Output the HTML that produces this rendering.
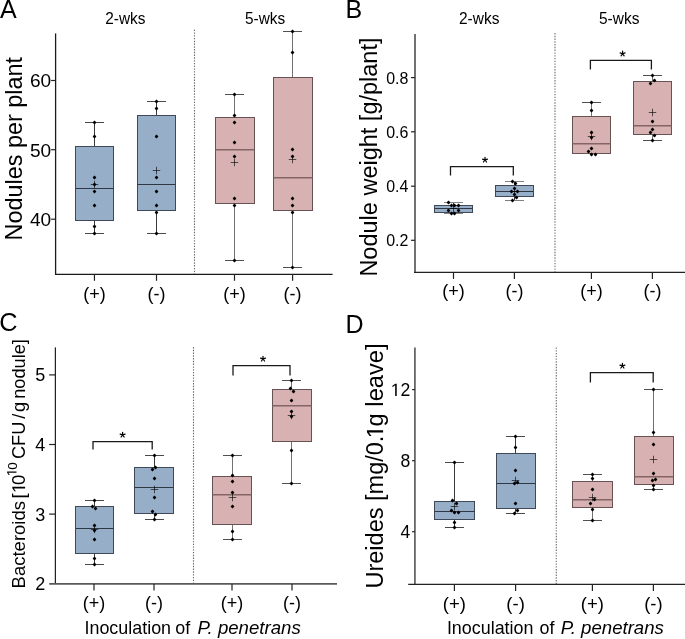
<!DOCTYPE html>
<html><head><meta charset="utf-8"><style>
html,body{margin:0;padding:0;background:#fff;}
body{width:685px;height:639px;overflow:hidden;}
svg{display:block;will-change:transform;}
text{font-family:"Liberation Sans", sans-serif;fill:#000;}
</style></head><body>
<svg width="685" height="639" viewBox="0 0 685 639">
<rect width="685" height="639" fill="#fff"/>
<text x="0.0" y="17.8" font-size="25" text-anchor="start"  style="">A</text>
<text x="105.3" y="23.7" font-size="17" text-anchor="start" textLength="40.2" lengthAdjust="spacingAndGlyphs" style="">2-wks</text>
<text x="245" y="23.7" font-size="17" text-anchor="start" textLength="40.2" lengthAdjust="spacingAndGlyphs" style="">5-wks</text>
<line x1="194.5" y1="29.66" x2="194.5" y2="274" stroke="#6a6a6a" stroke-width="1.1" stroke-dasharray="1.39 1.38"/>
<line x1="94.5" y1="122.5" x2="94.5" y2="146.5" stroke="#3a3a3a" stroke-width="1"/>
<line x1="94.5" y1="220.5" x2="94.5" y2="233.5" stroke="#3a3a3a" stroke-width="1"/>
<line x1="85.0" y1="122.5" x2="104.0" y2="122.5" stroke="#4a4a4a" stroke-width="1"/>
<line x1="85.0" y1="233.5" x2="104.0" y2="233.5" stroke="#4a4a4a" stroke-width="1"/>
<rect x="75.5" y="146.5" width="38.00" height="74.00" fill="#97aec9" stroke="#3e4856" stroke-width="1"/>
<line x1="75.5" y1="188.5" x2="113.5" y2="188.5" stroke="#2e3844" stroke-width="1.1"/>
<path d="M90.75 184.5H98.25M94.5 180.75V188.25" stroke="rgba(0,0,0,0.62)" stroke-width="1" fill="none"/>
<path d="M94.50 120.60L96.40 122.50L94.50 124.40L92.60 122.50Z" fill="#000"/><circle cx="94.5" cy="122.5" r="1.05" fill="#000"/>
<path d="M94.50 134.60L96.40 136.50L94.50 138.40L92.60 136.50Z" fill="#000"/><circle cx="94.5" cy="136.5" r="1.05" fill="#000"/>
<path d="M94.50 175.60L96.40 177.50L94.50 179.40L92.60 177.50Z" fill="#000"/><circle cx="94.5" cy="177.5" r="1.05" fill="#000"/>
<path d="M94.50 182.60L96.40 184.50L94.50 186.40L92.60 184.50Z" fill="#000"/><circle cx="94.5" cy="184.5" r="1.05" fill="#000"/>
<path d="M94.50 189.60L96.40 191.50L94.50 193.40L92.60 191.50Z" fill="#000"/><circle cx="94.5" cy="191.5" r="1.05" fill="#000"/>
<path d="M94.50 203.60L96.40 205.50L94.50 207.40L92.60 205.50Z" fill="#000"/><circle cx="94.5" cy="205.5" r="1.05" fill="#000"/>
<path d="M94.50 224.60L96.40 226.50L94.50 228.40L92.60 226.50Z" fill="#000"/><circle cx="94.5" cy="226.5" r="1.05" fill="#000"/>
<path d="M94.50 231.60L96.40 233.50L94.50 235.40L92.60 233.50Z" fill="#000"/><circle cx="94.5" cy="233.5" r="1.05" fill="#000"/>
<line x1="156.5" y1="101.5" x2="156.5" y2="115.5" stroke="#3a3a3a" stroke-width="1"/>
<line x1="156.5" y1="210.5" x2="156.5" y2="233.5" stroke="#3a3a3a" stroke-width="1"/>
<line x1="147.0" y1="101.5" x2="166.0" y2="101.5" stroke="#4a4a4a" stroke-width="1"/>
<line x1="147.0" y1="233.5" x2="166.0" y2="233.5" stroke="#4a4a4a" stroke-width="1"/>
<rect x="137.5" y="115.5" width="38.00" height="95.00" fill="#97aec9" stroke="#3e4856" stroke-width="1"/>
<line x1="137.5" y1="184.5" x2="175.5" y2="184.5" stroke="#2e3844" stroke-width="1.1"/>
<path d="M152.75 170.5H160.25M156.5 166.75V174.25" stroke="rgba(0,0,0,0.62)" stroke-width="1" fill="none"/>
<path d="M156.50 99.60L158.40 101.50L156.50 103.40L154.60 101.50Z" fill="#000"/><circle cx="156.5" cy="101.5" r="1.05" fill="#000"/>
<path d="M156.50 106.60L158.40 108.50L156.50 110.40L154.60 108.50Z" fill="#000"/><circle cx="156.5" cy="108.5" r="1.05" fill="#000"/>
<path d="M156.50 134.60L158.40 136.50L156.50 138.40L154.60 136.50Z" fill="#000"/><circle cx="156.5" cy="136.5" r="1.05" fill="#000"/>
<path d="M156.50 175.60L158.40 177.50L156.50 179.40L154.60 177.50Z" fill="#000"/><circle cx="156.5" cy="177.5" r="1.05" fill="#000"/>
<path d="M156.50 189.60L158.40 191.50L156.50 193.40L154.60 191.50Z" fill="#000"/><circle cx="156.5" cy="191.5" r="1.05" fill="#000"/>
<path d="M156.50 203.60L158.40 205.50L156.50 207.40L154.60 205.50Z" fill="#000"/><circle cx="156.5" cy="205.5" r="1.05" fill="#000"/>
<path d="M156.50 210.60L158.40 212.50L156.50 214.40L154.60 212.50Z" fill="#000"/><circle cx="156.5" cy="212.5" r="1.05" fill="#000"/>
<path d="M156.50 231.60L158.40 233.50L156.50 235.40L154.60 233.50Z" fill="#000"/><circle cx="156.5" cy="233.5" r="1.05" fill="#000"/>
<line x1="234.5" y1="94.5" x2="234.5" y2="117.5" stroke="#727272" stroke-width="1"/>
<line x1="234.5" y1="203.5" x2="234.5" y2="260.5" stroke="#727272" stroke-width="1"/>
<line x1="225.0" y1="94.5" x2="244.0" y2="94.5" stroke="#505050" stroke-width="1"/>
<line x1="225.0" y1="260.5" x2="244.0" y2="260.5" stroke="#505050" stroke-width="1"/>
<rect x="215.5" y="117.5" width="39.00" height="86.00" fill="#d8b2b2" stroke="#665252" stroke-width="1"/>
<line x1="215.5" y1="149.8" x2="254.5" y2="149.8" stroke="#846464" stroke-width="1.5"/>
<path d="M230.75 162.5H238.25M234.5 158.75V166.25" stroke="rgba(0,0,0,0.62)" stroke-width="1" fill="none"/>
<path d="M234.50 92.60L236.40 94.50L234.50 96.40L232.60 94.50Z" fill="#000"/><circle cx="234.5" cy="94.5" r="1.05" fill="#000"/>
<path d="M234.50 113.60L236.40 115.50L234.50 117.40L232.60 115.50Z" fill="#000"/><circle cx="234.5" cy="115.5" r="1.05" fill="#000"/>
<path d="M234.50 120.60L236.40 122.50L234.50 124.40L232.60 122.50Z" fill="#000"/><circle cx="234.5" cy="122.5" r="1.05" fill="#000"/>
<path d="M234.50 140.60L236.40 142.50L234.50 144.40L232.60 142.50Z" fill="#000"/><circle cx="234.5" cy="142.5" r="1.05" fill="#000"/>
<path d="M234.50 154.60L236.40 156.50L234.50 158.40L232.60 156.50Z" fill="#000"/><circle cx="234.5" cy="156.5" r="1.05" fill="#000"/>
<path d="M234.50 196.60L236.40 198.50L234.50 200.40L232.60 198.50Z" fill="#000"/><circle cx="234.5" cy="198.5" r="1.05" fill="#000"/>
<path d="M234.50 203.60L236.40 205.50L234.50 207.40L232.60 205.50Z" fill="#000"/><circle cx="234.5" cy="205.5" r="1.05" fill="#000"/>
<path d="M234.50 258.60L236.40 260.50L234.50 262.40L232.60 260.50Z" fill="#000"/><circle cx="234.5" cy="260.5" r="1.05" fill="#000"/>
<line x1="292.5" y1="31.5" x2="292.5" y2="77.5" stroke="#727272" stroke-width="1"/>
<line x1="292.5" y1="210.5" x2="292.5" y2="267.5" stroke="#727272" stroke-width="1"/>
<line x1="283.0" y1="31.5" x2="302.0" y2="31.5" stroke="#505050" stroke-width="1"/>
<line x1="283.0" y1="267.5" x2="302.0" y2="267.5" stroke="#505050" stroke-width="1"/>
<rect x="273.5" y="77.5" width="39.00" height="133.00" fill="#d8b2b2" stroke="#665252" stroke-width="1"/>
<line x1="273.5" y1="177.8" x2="312.5" y2="177.8" stroke="#846464" stroke-width="1.5"/>
<path d="M288.75 159.5H296.25M292.5 155.75V163.25" stroke="rgba(0,0,0,0.62)" stroke-width="1" fill="none"/>
<path d="M292.50 29.60L294.40 31.50L292.50 33.40L290.60 31.50Z" fill="#000"/><circle cx="292.5" cy="31.5" r="1.05" fill="#000"/>
<path d="M292.50 50.60L294.40 52.50L292.50 54.40L290.60 52.50Z" fill="#000"/><circle cx="292.5" cy="52.5" r="1.05" fill="#000"/>
<path d="M292.50 147.60L294.40 149.50L292.50 151.40L290.60 149.50Z" fill="#000"/><circle cx="292.5" cy="149.5" r="1.05" fill="#000"/>
<path d="M292.50 154.60L294.40 156.50L292.50 158.40L290.60 156.50Z" fill="#000"/><circle cx="292.5" cy="156.5" r="1.05" fill="#000"/>
<path d="M292.50 196.60L294.40 198.50L292.50 200.40L290.60 198.50Z" fill="#000"/><circle cx="292.5" cy="198.5" r="1.05" fill="#000"/>
<path d="M292.50 203.60L294.40 205.50L292.50 207.40L290.60 205.50Z" fill="#000"/><circle cx="292.5" cy="205.5" r="1.05" fill="#000"/>
<path d="M292.50 210.60L294.40 212.50L292.50 214.40L290.60 212.50Z" fill="#000"/><circle cx="292.5" cy="212.5" r="1.05" fill="#000"/>
<path d="M292.50 265.60L294.40 267.50L292.50 269.40L290.60 267.50Z" fill="#000"/><circle cx="292.5" cy="267.5" r="1.05" fill="#000"/>
<line x1="55.6" y1="33.4" x2="55.6" y2="274.3" stroke="#1a1a1a" stroke-width="1.3"/><line x1="54.95" y1="274.3" x2="332.6" y2="274.3" stroke="#1a1a1a" stroke-width="1.3"/>
<line x1="51.1" y1="80.5" x2="55.6" y2="80.5" stroke="#222" stroke-width="1.2"/>
<text x="51.2" y="87.376" font-size="19.1" text-anchor="end"  style="">60</text>
<line x1="51.1" y1="149.7" x2="55.6" y2="149.7" stroke="#222" stroke-width="1.2"/>
<text x="51.2" y="156.576" font-size="19.1" text-anchor="end"  style="">50</text>
<line x1="51.1" y1="219.2" x2="55.6" y2="219.2" stroke="#222" stroke-width="1.2"/>
<text x="51.2" y="226.076" font-size="19.1" text-anchor="end"  style="">40</text>
<line x1="94.45" y1="274.3" x2="94.45" y2="280.8" stroke="#222" stroke-width="1.2"/>
<text x="94.45" y="299.8" font-size="18" text-anchor="middle"  style="">(+)</text>
<line x1="156.5" y1="274.3" x2="156.5" y2="280.8" stroke="#222" stroke-width="1.2"/>
<text x="156.5" y="299.8" font-size="18" text-anchor="middle"  style="">(-)</text>
<line x1="234.5" y1="274.3" x2="234.5" y2="280.8" stroke="#222" stroke-width="1.2"/>
<text x="234.5" y="299.8" font-size="18" text-anchor="middle"  style="">(+)</text>
<line x1="292.6" y1="274.3" x2="292.6" y2="280.8" stroke="#222" stroke-width="1.2"/>
<text x="292.6" y="299.8" font-size="18" text-anchor="middle"  style="">(-)</text>
<text transform="translate(22.1,240.5) rotate(-90)" font-size="23.6" textLength="183.5" lengthAdjust="spacingAndGlyphs">Nodules per plant</text>
<text x="345.4" y="17.8" font-size="25" text-anchor="start"  style="">B</text>
<text x="459" y="23.7" font-size="17" text-anchor="start" textLength="40.4" lengthAdjust="spacingAndGlyphs" style="">2-wks</text>
<text x="599" y="23.7" font-size="17" text-anchor="start" textLength="40.4" lengthAdjust="spacingAndGlyphs" style="">5-wks</text>
<line x1="555" y1="33" x2="555" y2="272" stroke="#808080" stroke-width="1.3" stroke-dasharray="1.39 1.38"/>
<line x1="453.5" y1="202.5" x2="453.5" y2="205.5" stroke="#3a3a3a" stroke-width="1"/>
<line x1="453.5" y1="212.5" x2="453.5" y2="213.5" stroke="#3a3a3a" stroke-width="1"/>
<line x1="444.0" y1="202.5" x2="463.0" y2="202.5" stroke="#858585" stroke-width="1"/>
<line x1="444.0" y1="213.5" x2="463.0" y2="213.5" stroke="#858585" stroke-width="1"/>
<rect x="434.5" y="205.5" width="38.00" height="7.00" fill="#97aec9" stroke="#3e4856" stroke-width="1"/>
<line x1="434.5" y1="208.5" x2="472.5" y2="208.5" stroke="#2e3844" stroke-width="1.1"/>
<path d="M449.75 208.5H457.25M453.5 204.75V212.25" stroke="rgba(0,0,0,0.62)" stroke-width="1" fill="none"/>
<path d="M448.50 200.60L450.40 202.50L448.50 204.40L446.60 202.50Z" fill="#000"/><circle cx="448.5" cy="202.5" r="1.05" fill="#000"/>
<path d="M451.50 203.60L453.40 205.50L451.50 207.40L449.60 205.50Z" fill="#000"/><circle cx="451.5" cy="205.5" r="1.05" fill="#000"/>
<path d="M454.50 203.60L456.40 205.50L454.50 207.40L452.60 205.50Z" fill="#000"/><circle cx="454.5" cy="205.5" r="1.05" fill="#000"/>
<path d="M458.50 203.60L460.40 205.50L458.50 207.40L456.60 205.50Z" fill="#000"/><circle cx="458.5" cy="205.5" r="1.05" fill="#000"/>
<path d="M448.50 208.60L450.40 210.50L448.50 212.40L446.60 210.50Z" fill="#000"/><circle cx="448.5" cy="210.5" r="1.05" fill="#000"/>
<path d="M458.50 208.60L460.40 210.50L458.50 212.40L456.60 210.50Z" fill="#000"/><circle cx="458.5" cy="210.5" r="1.05" fill="#000"/>
<path d="M451.50 211.60L453.40 213.50L451.50 215.40L449.60 213.50Z" fill="#000"/><circle cx="451.5" cy="213.5" r="1.05" fill="#000"/>
<path d="M454.50 211.60L456.40 213.50L454.50 215.40L452.60 213.50Z" fill="#000"/><circle cx="454.5" cy="213.5" r="1.05" fill="#000"/>
<line x1="514.5" y1="181.5" x2="514.5" y2="185.5" stroke="#3a3a3a" stroke-width="1"/>
<line x1="514.5" y1="196.5" x2="514.5" y2="200.5" stroke="#3a3a3a" stroke-width="1"/>
<line x1="505.0" y1="181.5" x2="524.0" y2="181.5" stroke="#808080" stroke-width="1"/>
<line x1="505.0" y1="200.5" x2="524.0" y2="200.5" stroke="#808080" stroke-width="1"/>
<rect x="495.5" y="185.5" width="38.00" height="11.00" fill="#97aec9" stroke="#3e4856" stroke-width="1"/>
<line x1="495.5" y1="191.5" x2="533.5" y2="191.5" stroke="#2e3844" stroke-width="1.1"/>
<path d="M510.75 191.5H518.25M514.5 187.75V195.25" stroke="rgba(0,0,0,0.62)" stroke-width="1" fill="none"/>
<path d="M512.50 179.60L514.40 181.50L512.50 183.40L510.60 181.50Z" fill="#000"/><circle cx="512.5" cy="181.5" r="1.05" fill="#000"/>
<path d="M515.50 181.60L517.40 183.50L515.50 185.40L513.60 183.50Z" fill="#000"/><circle cx="515.5" cy="183.5" r="1.05" fill="#000"/>
<path d="M514.50 186.60L516.40 188.50L514.50 190.40L512.60 188.50Z" fill="#000"/><circle cx="514.5" cy="188.5" r="1.05" fill="#000"/>
<path d="M511.50 189.60L513.40 191.50L511.50 193.40L509.60 191.50Z" fill="#000"/><circle cx="511.5" cy="191.5" r="1.05" fill="#000"/>
<path d="M517.50 189.60L519.40 191.50L517.50 193.40L515.60 191.50Z" fill="#000"/><circle cx="517.5" cy="191.5" r="1.05" fill="#000"/>
<path d="M514.50 192.60L516.40 194.50L514.50 196.40L512.60 194.50Z" fill="#000"/><circle cx="514.5" cy="194.5" r="1.05" fill="#000"/>
<path d="M516.50 195.60L518.40 197.50L516.50 199.40L514.60 197.50Z" fill="#000"/><circle cx="516.5" cy="197.5" r="1.05" fill="#000"/>
<path d="M512.50 198.60L514.40 200.50L512.50 202.40L510.60 200.50Z" fill="#000"/><circle cx="512.5" cy="200.5" r="1.05" fill="#000"/>
<line x1="591.5" y1="102.5" x2="591.5" y2="116.5" stroke="#727272" stroke-width="1"/>
<line x1="591.5" y1="153.5" x2="591.5" y2="153.5" stroke="#727272" stroke-width="1"/>
<line x1="582.0" y1="102.5" x2="601.0" y2="102.5" stroke="#505050" stroke-width="1"/>
<line x1="582.0" y1="153.5" x2="601.0" y2="153.5" stroke="#505050" stroke-width="1"/>
<rect x="572.5" y="116.5" width="38.00" height="37.00" fill="#d8b2b2" stroke="#665252" stroke-width="1"/>
<line x1="572.5" y1="143.8" x2="610.5" y2="143.8" stroke="#846464" stroke-width="1.5"/>
<path d="M587.75 136.5H595.25M591.5 132.75V140.25" stroke="rgba(0,0,0,0.62)" stroke-width="1" fill="none"/>
<path d="M591.50 100.60L593.40 102.50L591.50 104.40L589.60 102.50Z" fill="#000"/><circle cx="591.5" cy="102.5" r="1.05" fill="#000"/>
<path d="M591.50 108.60L593.40 110.50L591.50 112.40L589.60 110.50Z" fill="#000"/><circle cx="591.5" cy="110.5" r="1.05" fill="#000"/>
<path d="M591.50 130.60L593.40 132.50L591.50 134.40L589.60 132.50Z" fill="#000"/><circle cx="591.5" cy="132.5" r="1.05" fill="#000"/>
<path d="M591.50 135.60L593.40 137.50L591.50 139.40L589.60 137.50Z" fill="#000"/><circle cx="591.5" cy="137.5" r="1.05" fill="#000"/>
<path d="M591.50 146.60L593.40 148.50L591.50 150.40L589.60 148.50Z" fill="#000"/><circle cx="591.5" cy="148.5" r="1.05" fill="#000"/>
<path d="M588.50 149.60L590.40 151.50L588.50 153.40L586.60 151.50Z" fill="#000"/><circle cx="588.5" cy="151.5" r="1.05" fill="#000"/>
<path d="M591.50 152.60L593.40 154.50L591.50 156.40L589.60 154.50Z" fill="#000"/><circle cx="591.5" cy="154.5" r="1.05" fill="#000"/>
<path d="M595.50 152.60L597.40 154.50L595.50 156.40L593.60 154.50Z" fill="#000"/><circle cx="595.5" cy="154.5" r="1.05" fill="#000"/>
<line x1="652.5" y1="75.5" x2="652.5" y2="81.5" stroke="#727272" stroke-width="1"/>
<line x1="652.5" y1="134.5" x2="652.5" y2="140.5" stroke="#727272" stroke-width="1"/>
<line x1="643.0" y1="75.5" x2="662.0" y2="75.5" stroke="#505050" stroke-width="1"/>
<line x1="643.0" y1="140.5" x2="662.0" y2="140.5" stroke="#505050" stroke-width="1"/>
<rect x="633.5" y="81.5" width="38.00" height="53.00" fill="#d8b2b2" stroke="#665252" stroke-width="1"/>
<line x1="633.5" y1="125.8" x2="671.5" y2="125.8" stroke="#846464" stroke-width="1.5"/>
<path d="M648.75 112.5H656.25M652.5 108.75V116.25" stroke="rgba(0,0,0,0.62)" stroke-width="1" fill="none"/>
<path d="M652.50 73.60L654.40 75.50L652.50 77.40L650.60 75.50Z" fill="#000"/><circle cx="652.5" cy="75.5" r="1.05" fill="#000"/>
<path d="M654.50 78.60L656.40 80.50L654.50 82.40L652.60 80.50Z" fill="#000"/><circle cx="654.5" cy="80.5" r="1.05" fill="#000"/>
<path d="M650.50 81.60L652.40 83.50L650.50 85.40L648.60 83.50Z" fill="#000"/><circle cx="650.5" cy="83.5" r="1.05" fill="#000"/>
<path d="M652.50 119.60L654.40 121.50L652.50 123.40L650.60 121.50Z" fill="#000"/><circle cx="652.5" cy="121.5" r="1.05" fill="#000"/>
<path d="M652.50 127.60L654.40 129.50L652.50 131.40L650.60 129.50Z" fill="#000"/><circle cx="652.5" cy="129.5" r="1.05" fill="#000"/>
<path d="M650.50 130.60L652.40 132.50L650.50 134.40L648.60 132.50Z" fill="#000"/><circle cx="650.5" cy="132.5" r="1.05" fill="#000"/>
<path d="M654.50 133.60L656.40 135.50L654.50 137.40L652.60 135.50Z" fill="#000"/><circle cx="654.5" cy="135.5" r="1.05" fill="#000"/>
<path d="M652.50 138.60L654.40 140.50L652.50 142.40L650.60 140.50Z" fill="#000"/><circle cx="652.5" cy="140.5" r="1.05" fill="#000"/>
<line x1="415" y1="34" x2="415" y2="272.4" stroke="#626262" stroke-width="1.8"/><line x1="414" y1="272.4" x2="685" y2="272.4" stroke="#222" stroke-width="1.25"/>
<line x1="411" y1="77.6" x2="415" y2="77.6" stroke="#222" stroke-width="1.2"/>
<line x1="411" y1="131.8" x2="415" y2="131.8" stroke="#222" stroke-width="1.2"/>
<line x1="411" y1="186.2" x2="415" y2="186.2" stroke="#222" stroke-width="1.2"/>
<line x1="411" y1="240.3" x2="415" y2="240.3" stroke="#222" stroke-width="1.2"/>
<text x="386.2" y="83.6" font-size="17.3" text-anchor="start" textLength="22.2" lengthAdjust="spacingAndGlyphs" style="">0.8</text>
<text x="386.2" y="137.8" font-size="17.3" text-anchor="start" textLength="22.2" lengthAdjust="spacingAndGlyphs" style="">0.6</text>
<text x="386.2" y="192.2" font-size="17.3" text-anchor="start" textLength="22.2" lengthAdjust="spacingAndGlyphs" style="">0.4</text>
<text x="386.2" y="246.3" font-size="17.3" text-anchor="start" textLength="22.2" lengthAdjust="spacingAndGlyphs" style="">0.2</text>
<line x1="453.5" y1="272.4" x2="453.5" y2="278.9" stroke="#222" stroke-width="1.2"/>
<text x="453.5" y="296.8" font-size="18" text-anchor="middle"  style="">(+)</text>
<line x1="514.4" y1="272.4" x2="514.4" y2="278.9" stroke="#222" stroke-width="1.2"/>
<text x="514.4" y="296.8" font-size="18" text-anchor="middle"  style="">(-)</text>
<line x1="591.4" y1="272.4" x2="591.4" y2="278.9" stroke="#222" stroke-width="1.2"/>
<text x="591.4" y="296.8" font-size="18" text-anchor="middle"  style="">(+)</text>
<line x1="652.4" y1="272.4" x2="652.4" y2="278.9" stroke="#222" stroke-width="1.2"/>
<text x="652.4" y="296.8" font-size="18" text-anchor="middle"  style="">(-)</text>
<path d="M450.5 175.4V166.6H513.3V175.4" stroke="#1a1a1a" stroke-width="1.3" fill="none"/><path d="M485.00 159.90L485.00 157.30M485.00 159.90L487.47 159.10M485.00 159.90L486.53 162.00M485.00 159.90L483.47 162.00M485.00 159.90L482.53 159.10" stroke="#000" stroke-width="1.2" stroke-linecap="round" fill="none"/>
<path d="M590.4 69.6V60.4H651.4V69.6" stroke="#1a1a1a" stroke-width="1.3" fill="none"/><path d="M622.60 53.70L622.60 51.10M622.60 53.70L625.07 52.90M622.60 53.70L624.13 55.80M622.60 53.70L621.07 55.80M622.60 53.70L620.13 52.90" stroke="#000" stroke-width="1.2" stroke-linecap="round" fill="none"/>
<text transform="translate(377.3,276.6) rotate(-90)" font-size="23.5" textLength="239.1" lengthAdjust="spacingAndGlyphs">Nodule weight [g/plant]</text>
<text x="-0.75" y="331.2" font-size="25.3" text-anchor="start"  style="">C</text>
<line x1="193.5" y1="347" x2="193.5" y2="583.5" stroke="#6a6a6a" stroke-width="1.1" stroke-dasharray="1.39 1.38"/>
<line x1="94.5" y1="500.5" x2="94.5" y2="506.5" stroke="#3a3a3a" stroke-width="1"/>
<line x1="94.5" y1="553.5" x2="94.5" y2="564.5" stroke="#3a3a3a" stroke-width="1"/>
<line x1="85.0" y1="500.5" x2="104.0" y2="500.5" stroke="#4a4a4a" stroke-width="1"/>
<line x1="85.0" y1="564.5" x2="104.0" y2="564.5" stroke="#4a4a4a" stroke-width="1"/>
<rect x="75.5" y="506.5" width="38.00" height="47.00" fill="#97aec9" stroke="#3e4856" stroke-width="1"/>
<line x1="75.5" y1="528.5" x2="113.5" y2="528.5" stroke="#2e3844" stroke-width="1.1"/>
<path d="M90.75 529.5H98.25M94.5 525.75V533.25" stroke="rgba(0,0,0,0.62)" stroke-width="1" fill="none"/>
<path d="M94.50 498.60L96.40 500.50L94.50 502.40L92.60 500.50Z" fill="#000"/><circle cx="94.5" cy="500.5" r="1.05" fill="#000"/>
<path d="M92.50 504.60L94.40 506.50L92.50 508.40L90.60 506.50Z" fill="#000"/><circle cx="92.5" cy="506.5" r="1.05" fill="#000"/>
<path d="M95.50 506.60L97.40 508.50L95.50 510.40L93.60 508.50Z" fill="#000"/><circle cx="95.5" cy="508.5" r="1.05" fill="#000"/>
<path d="M94.50 523.60L96.40 525.50L94.50 527.40L92.60 525.50Z" fill="#000"/><circle cx="94.5" cy="525.5" r="1.05" fill="#000"/>
<path d="M94.50 528.60L96.40 530.50L94.50 532.40L92.60 530.50Z" fill="#000"/><circle cx="94.5" cy="530.5" r="1.05" fill="#000"/>
<path d="M94.50 537.60L96.40 539.50L94.50 541.40L92.60 539.50Z" fill="#000"/><circle cx="94.5" cy="539.5" r="1.05" fill="#000"/>
<path d="M94.50 556.60L96.40 558.50L94.50 560.40L92.60 558.50Z" fill="#000"/><circle cx="94.5" cy="558.5" r="1.05" fill="#000"/>
<path d="M94.50 562.60L96.40 564.50L94.50 566.40L92.60 564.50Z" fill="#000"/><circle cx="94.5" cy="564.5" r="1.05" fill="#000"/>
<line x1="154.5" y1="455.5" x2="154.5" y2="467.5" stroke="#3a3a3a" stroke-width="1"/>
<line x1="154.5" y1="513.5" x2="154.5" y2="519.5" stroke="#3a3a3a" stroke-width="1"/>
<line x1="145.0" y1="455.5" x2="164.0" y2="455.5" stroke="#4a4a4a" stroke-width="1"/>
<line x1="145.0" y1="519.5" x2="164.0" y2="519.5" stroke="#4a4a4a" stroke-width="1"/>
<rect x="134.5" y="467.5" width="39.00" height="46.00" fill="#97aec9" stroke="#3e4856" stroke-width="1"/>
<line x1="134.5" y1="487.5" x2="173.5" y2="487.5" stroke="#2e3844" stroke-width="1.1"/>
<path d="M150.75 489.5H158.25M154.5 485.75V493.25" stroke="rgba(0,0,0,0.62)" stroke-width="1" fill="none"/>
<path d="M154.50 453.60L156.40 455.50L154.50 457.40L152.60 455.50Z" fill="#000"/><circle cx="154.5" cy="455.5" r="1.05" fill="#000"/>
<path d="M155.50 465.60L157.40 467.50L155.50 469.40L153.60 467.50Z" fill="#000"/><circle cx="155.5" cy="467.5" r="1.05" fill="#000"/>
<path d="M152.50 467.60L154.40 469.50L152.50 471.40L150.60 469.50Z" fill="#000"/><circle cx="152.5" cy="469.5" r="1.05" fill="#000"/>
<path d="M154.50 476.60L156.40 478.50L154.50 480.40L152.60 478.50Z" fill="#000"/><circle cx="154.5" cy="478.5" r="1.05" fill="#000"/>
<path d="M154.50 495.60L156.40 497.50L154.50 499.40L152.60 497.50Z" fill="#000"/><circle cx="154.5" cy="497.5" r="1.05" fill="#000"/>
<path d="M152.50 509.60L154.40 511.50L152.50 513.40L150.60 511.50Z" fill="#000"/><circle cx="152.5" cy="511.5" r="1.05" fill="#000"/>
<path d="M155.50 512.60L157.40 514.50L155.50 516.40L153.60 514.50Z" fill="#000"/><circle cx="155.5" cy="514.5" r="1.05" fill="#000"/>
<path d="M154.50 517.60L156.40 519.50L154.50 521.40L152.60 519.50Z" fill="#000"/><circle cx="154.5" cy="519.5" r="1.05" fill="#000"/>
<line x1="232.5" y1="455.5" x2="232.5" y2="476.5" stroke="#727272" stroke-width="1"/>
<line x1="232.5" y1="524.5" x2="232.5" y2="539.5" stroke="#727272" stroke-width="1"/>
<line x1="223.0" y1="455.5" x2="242.0" y2="455.5" stroke="#505050" stroke-width="1"/>
<line x1="223.0" y1="539.5" x2="242.0" y2="539.5" stroke="#505050" stroke-width="1"/>
<rect x="212.5" y="476.5" width="39.00" height="48.00" fill="#d8b2b2" stroke="#665252" stroke-width="1"/>
<line x1="212.5" y1="494.8" x2="251.5" y2="494.8" stroke="#846464" stroke-width="1.5"/>
<path d="M228.75 497.5H236.25M232.5 493.75V501.25" stroke="rgba(0,0,0,0.62)" stroke-width="1" fill="none"/>
<path d="M232.50 453.60L234.40 455.50L232.50 457.40L230.60 455.50Z" fill="#000"/><circle cx="232.5" cy="455.5" r="1.05" fill="#000"/>
<path d="M232.50 473.60L234.40 475.50L232.50 477.40L230.60 475.50Z" fill="#000"/><circle cx="232.5" cy="475.5" r="1.05" fill="#000"/>
<path d="M232.50 479.60L234.40 481.50L232.50 483.40L230.60 481.50Z" fill="#000"/><circle cx="232.5" cy="481.5" r="1.05" fill="#000"/>
<path d="M232.50 490.60L234.40 492.50L232.50 494.40L230.60 492.50Z" fill="#000"/><circle cx="232.5" cy="492.5" r="1.05" fill="#000"/>
<path d="M232.50 504.60L234.40 506.50L232.50 508.40L230.60 506.50Z" fill="#000"/><circle cx="232.5" cy="506.5" r="1.05" fill="#000"/>
<path d="M232.50 529.60L234.40 531.50L232.50 533.40L230.60 531.50Z" fill="#000"/><circle cx="232.5" cy="531.5" r="1.05" fill="#000"/>
<path d="M232.50 537.60L234.40 539.50L232.50 541.40L230.60 539.50Z" fill="#000"/><circle cx="232.5" cy="539.5" r="1.05" fill="#000"/>
<line x1="291.5" y1="380.5" x2="291.5" y2="389.5" stroke="#727272" stroke-width="1"/>
<line x1="291.5" y1="441.5" x2="291.5" y2="483.5" stroke="#727272" stroke-width="1"/>
<line x1="282.0" y1="380.5" x2="301.0" y2="380.5" stroke="#505050" stroke-width="1"/>
<line x1="282.0" y1="483.5" x2="301.0" y2="483.5" stroke="#505050" stroke-width="1"/>
<rect x="272.5" y="389.5" width="39.00" height="52.00" fill="#d8b2b2" stroke="#665252" stroke-width="1"/>
<line x1="272.5" y1="405.8" x2="311.5" y2="405.8" stroke="#846464" stroke-width="1.5"/>
<path d="M287.75 415.5H295.25M291.5 411.75V419.25" stroke="rgba(0,0,0,0.62)" stroke-width="1" fill="none"/>
<path d="M291.50 378.60L293.40 380.50L291.50 382.40L289.60 380.50Z" fill="#000"/><circle cx="291.5" cy="380.5" r="1.05" fill="#000"/>
<path d="M290.50 386.60L292.40 388.50L290.50 390.40L288.60 388.50Z" fill="#000"/><circle cx="290.5" cy="388.5" r="1.05" fill="#000"/>
<path d="M293.50 389.60L295.40 391.50L293.50 393.40L291.60 391.50Z" fill="#000"/><circle cx="293.5" cy="391.5" r="1.05" fill="#000"/>
<path d="M291.50 398.60L293.40 400.50L291.50 402.40L289.60 400.50Z" fill="#000"/><circle cx="291.5" cy="400.5" r="1.05" fill="#000"/>
<path d="M291.50 409.60L293.40 411.50L291.50 413.40L289.60 411.50Z" fill="#000"/><circle cx="291.5" cy="411.5" r="1.05" fill="#000"/>
<path d="M291.50 414.60L293.40 416.50L291.50 418.40L289.60 416.50Z" fill="#000"/><circle cx="291.5" cy="416.5" r="1.05" fill="#000"/>
<path d="M291.50 448.60L293.40 450.50L291.50 452.40L289.60 450.50Z" fill="#000"/><circle cx="291.5" cy="450.5" r="1.05" fill="#000"/>
<path d="M291.50 481.60L293.40 483.50L291.50 485.40L289.60 483.50Z" fill="#000"/><circle cx="291.5" cy="483.5" r="1.05" fill="#000"/>
<line x1="55.4" y1="347.4" x2="55.4" y2="583.9" stroke="#222" stroke-width="1.25"/><line x1="49.2" y1="583.9" x2="337" y2="583.9" stroke="#5a5a5a" stroke-width="1.6"/>
<line x1="49.1" y1="374.9" x2="55.4" y2="374.9" stroke="#222" stroke-width="1.2"/>
<text x="45.3" y="381.38" font-size="18" text-anchor="end"  style="">5</text>
<line x1="49.1" y1="444.5" x2="55.4" y2="444.5" stroke="#222" stroke-width="1.2"/>
<text x="45.3" y="450.98" font-size="18" text-anchor="end"  style="">4</text>
<line x1="49.1" y1="514.1" x2="55.4" y2="514.1" stroke="#222" stroke-width="1.2"/>
<text x="45.3" y="520.58" font-size="18" text-anchor="end"  style="">3</text>
<text x="45.3" y="590.38" font-size="18" text-anchor="end"  style="">2</text>
<line x1="94" y1="583.9" x2="94" y2="590.4" stroke="#222" stroke-width="1.2"/>
<text x="94" y="608.8" font-size="18" text-anchor="middle"  style="">(+)</text>
<line x1="154" y1="583.9" x2="154" y2="590.4" stroke="#222" stroke-width="1.2"/>
<text x="154" y="608.8" font-size="18" text-anchor="middle"  style="">(-)</text>
<line x1="232" y1="583.9" x2="232" y2="590.4" stroke="#222" stroke-width="1.2"/>
<text x="232" y="608.8" font-size="18" text-anchor="middle"  style="">(+)</text>
<line x1="292" y1="583.9" x2="292" y2="590.4" stroke="#222" stroke-width="1.2"/>
<text x="292" y="608.8" font-size="18" text-anchor="middle"  style="">(-)</text>
<path d="M93 449.4V441.6H152.2V449.4" stroke="#1a1a1a" stroke-width="1.3" fill="none"/><path d="M122.60 434.90L122.60 432.30M122.60 434.90L125.07 434.10M122.60 434.90L124.13 437.00M122.60 434.90L121.07 437.00M122.60 434.90L120.13 434.10" stroke="#000" stroke-width="1.2" stroke-linecap="round" fill="none"/>
<path d="M233 375.6V365.6H290V375.6" stroke="#1a1a1a" stroke-width="1.3" fill="none"/><path d="M263.00 358.90L263.00 356.30M263.00 358.90L265.47 358.10M263.00 358.90L264.53 361.00M263.00 358.90L261.47 361.00M263.00 358.90L260.53 358.10" stroke="#000" stroke-width="1.2" stroke-linecap="round" fill="none"/>
<text x="84.5" y="634.4" font-size="17.9" text-anchor="start"  style="">Inoculation</text>
<text x="175.3" y="634.4" font-size="17.9" text-anchor="start"  style="">of</text>
<text x="197.5" y="634.4" font-size="17.9" text-anchor="start" font-style="italic" textLength="103.3" lengthAdjust="spacingAndGlyphs" style="">P. penetrans</text>
<text transform="translate(25.1,588.4) rotate(-90)" font-size="18.5">Bacteroids</text>
<text transform="translate(25.1,498.6) rotate(-90)" font-size="18.6">[</text>
<path transform="translate(25.1,493.1) rotate(-90) scale(0.00908,-0.00908)" d="M515 0L515 1237L197 1010L197 1180L530 1409L696 1409L696 0Z" fill="#000"/>
<text transform="translate(25.1,484.95) rotate(-90)" font-size="18.6">0</text>
<path transform="translate(16.5,476.2) rotate(-90) scale(0.00664,-0.00664)" d="M515 0L515 1237L197 1010L197 1180L530 1409L696 1409L696 0Z" fill="#000"/>
<text transform="translate(16.5,469.65) rotate(-90)" font-size="13.6">0</text>
<text transform="translate(25.1,459.1) rotate(-90)" font-size="18.2">CFU</text>
<text transform="translate(25.1,418.8) rotate(-90)" font-size="18.2">/</text>
<text transform="translate(25.1,412.1) rotate(-90)" font-size="18.4">g</text>
<text transform="translate(25.1,398.8) rotate(-90)" font-size="18.2">nodule]</text>
<text x="345.6" y="332.9" font-size="25" text-anchor="start"  style="">D</text>
<line x1="556.3" y1="347.4" x2="556.3" y2="584.4" stroke="#777" stroke-width="1.2" stroke-dasharray="1.39 1.38"/>
<line x1="454.5" y1="462.5" x2="454.5" y2="501.5" stroke="#3a3a3a" stroke-width="1"/>
<line x1="454.5" y1="519.5" x2="454.5" y2="527.5" stroke="#3a3a3a" stroke-width="1"/>
<line x1="445.0" y1="462.5" x2="464.0" y2="462.5" stroke="#4a4a4a" stroke-width="1"/>
<line x1="445.0" y1="527.5" x2="464.0" y2="527.5" stroke="#4a4a4a" stroke-width="1"/>
<rect x="434.5" y="501.5" width="40.00" height="18.00" fill="#97aec9" stroke="#3e4856" stroke-width="1"/>
<line x1="434.5" y1="511.5" x2="474.5" y2="511.5" stroke="#2e3844" stroke-width="1.1"/>
<path d="M450.75 506.5H458.25M454.5 502.75V510.25" stroke="rgba(0,0,0,0.62)" stroke-width="1" fill="none"/>
<path d="M454.50 460.60L456.40 462.50L454.50 464.40L452.60 462.50Z" fill="#000"/><circle cx="454.5" cy="462.5" r="1.05" fill="#000"/>
<path d="M452.50 498.60L454.40 500.50L452.50 502.40L450.60 500.50Z" fill="#000"/><circle cx="452.5" cy="500.5" r="1.05" fill="#000"/>
<path d="M456.50 501.60L458.40 503.50L456.50 505.40L454.60 503.50Z" fill="#000"/><circle cx="456.5" cy="503.5" r="1.05" fill="#000"/>
<path d="M451.50 508.60L453.40 510.50L451.50 512.40L449.60 510.50Z" fill="#000"/><circle cx="451.5" cy="510.5" r="1.05" fill="#000"/>
<path d="M454.50 510.60L456.40 512.50L454.50 514.40L452.60 512.50Z" fill="#000"/><circle cx="454.5" cy="512.5" r="1.05" fill="#000"/>
<path d="M458.50 510.60L460.40 512.50L458.50 514.40L456.60 512.50Z" fill="#000"/><circle cx="458.5" cy="512.5" r="1.05" fill="#000"/>
<path d="M454.50 520.60L456.40 522.50L454.50 524.40L452.60 522.50Z" fill="#000"/><circle cx="454.5" cy="522.5" r="1.05" fill="#000"/>
<path d="M454.50 525.60L456.40 527.50L454.50 529.40L452.60 527.50Z" fill="#000"/><circle cx="454.5" cy="527.5" r="1.05" fill="#000"/>
<line x1="515.5" y1="436.5" x2="515.5" y2="453.5" stroke="#3a3a3a" stroke-width="1"/>
<line x1="515.5" y1="508.5" x2="515.5" y2="513.5" stroke="#3a3a3a" stroke-width="1"/>
<line x1="506.0" y1="436.5" x2="525.0" y2="436.5" stroke="#4a4a4a" stroke-width="1"/>
<line x1="506.0" y1="513.5" x2="525.0" y2="513.5" stroke="#4a4a4a" stroke-width="1"/>
<rect x="496.5" y="453.5" width="39.00" height="55.00" fill="#97aec9" stroke="#3e4856" stroke-width="1"/>
<line x1="496.5" y1="483.5" x2="535.5" y2="483.5" stroke="#2e3844" stroke-width="1.1"/>
<path d="M511.75 480.5H519.25M515.5 476.75V484.25" stroke="rgba(0,0,0,0.62)" stroke-width="1" fill="none"/>
<path d="M515.50 434.60L517.40 436.50L515.50 438.40L513.60 436.50Z" fill="#000"/><circle cx="515.5" cy="436.5" r="1.05" fill="#000"/>
<path d="M515.50 445.60L517.40 447.50L515.50 449.40L513.60 447.50Z" fill="#000"/><circle cx="515.5" cy="447.5" r="1.05" fill="#000"/>
<path d="M515.50 468.60L517.40 470.50L515.50 472.40L513.60 470.50Z" fill="#000"/><circle cx="515.5" cy="470.5" r="1.05" fill="#000"/>
<path d="M514.50 481.60L516.40 483.50L514.50 485.40L512.60 483.50Z" fill="#000"/><circle cx="514.5" cy="483.5" r="1.05" fill="#000"/>
<path d="M517.50 480.60L519.40 482.50L517.50 484.40L515.60 482.50Z" fill="#000"/><circle cx="517.5" cy="482.5" r="1.05" fill="#000"/>
<path d="M515.50 501.60L517.40 503.50L515.50 505.40L513.60 503.50Z" fill="#000"/><circle cx="515.5" cy="503.5" r="1.05" fill="#000"/>
<path d="M517.50 508.60L519.40 510.50L517.50 512.40L515.60 510.50Z" fill="#000"/><circle cx="517.5" cy="510.5" r="1.05" fill="#000"/>
<path d="M514.50 511.60L516.40 513.50L514.50 515.40L512.60 513.50Z" fill="#000"/><circle cx="514.5" cy="513.5" r="1.05" fill="#000"/>
<line x1="592.5" y1="474.5" x2="592.5" y2="481.5" stroke="#727272" stroke-width="1"/>
<line x1="592.5" y1="507.5" x2="592.5" y2="520.5" stroke="#727272" stroke-width="1"/>
<line x1="583.0" y1="474.5" x2="602.0" y2="474.5" stroke="#505050" stroke-width="1"/>
<line x1="583.0" y1="520.5" x2="602.0" y2="520.5" stroke="#505050" stroke-width="1"/>
<rect x="572.5" y="481.5" width="40.00" height="26.00" fill="#d8b2b2" stroke="#665252" stroke-width="1"/>
<line x1="572.5" y1="499.8" x2="612.5" y2="499.8" stroke="#846464" stroke-width="1.5"/>
<path d="M588.75 497.5H596.25M592.5 493.75V501.25" stroke="rgba(0,0,0,0.62)" stroke-width="1" fill="none"/>
<path d="M592.50 472.60L594.40 474.50L592.50 476.40L590.60 474.50Z" fill="#000"/><circle cx="592.5" cy="474.5" r="1.05" fill="#000"/>
<path d="M592.50 476.60L594.40 478.50L592.50 480.40L590.60 478.50Z" fill="#000"/><circle cx="592.5" cy="478.5" r="1.05" fill="#000"/>
<path d="M592.50 487.60L594.40 489.50L592.50 491.40L590.60 489.50Z" fill="#000"/><circle cx="592.5" cy="489.5" r="1.05" fill="#000"/>
<path d="M594.50 497.60L596.40 499.50L594.50 501.40L592.60 499.50Z" fill="#000"/><circle cx="594.5" cy="499.5" r="1.05" fill="#000"/>
<path d="M590.50 501.60L592.40 503.50L590.50 505.40L588.60 503.50Z" fill="#000"/><circle cx="590.5" cy="503.5" r="1.05" fill="#000"/>
<path d="M592.50 507.60L594.40 509.50L592.50 511.40L590.60 509.50Z" fill="#000"/><circle cx="592.5" cy="509.5" r="1.05" fill="#000"/>
<path d="M592.50 518.60L594.40 520.50L592.50 522.40L590.60 520.50Z" fill="#000"/><circle cx="592.5" cy="520.5" r="1.05" fill="#000"/>
<line x1="653.5" y1="389.5" x2="653.5" y2="436.5" stroke="#727272" stroke-width="1"/>
<line x1="653.5" y1="484.5" x2="653.5" y2="489.5" stroke="#727272" stroke-width="1"/>
<line x1="644.0" y1="389.5" x2="663.0" y2="389.5" stroke="#505050" stroke-width="1"/>
<line x1="644.0" y1="489.5" x2="663.0" y2="489.5" stroke="#505050" stroke-width="1"/>
<rect x="634.5" y="436.5" width="39.00" height="48.00" fill="#d8b2b2" stroke="#665252" stroke-width="1"/>
<line x1="634.5" y1="476.8" x2="673.5" y2="476.8" stroke="#846464" stroke-width="1.5"/>
<path d="M649.75 459.5H657.25M653.5 455.75V463.25" stroke="rgba(0,0,0,0.62)" stroke-width="1" fill="none"/>
<path d="M653.50 387.60L655.40 389.50L653.50 391.40L651.60 389.50Z" fill="#000"/><circle cx="653.5" cy="389.5" r="1.05" fill="#000"/>
<path d="M653.50 430.60L655.40 432.50L653.50 434.40L651.60 432.50Z" fill="#000"/><circle cx="653.5" cy="432.5" r="1.05" fill="#000"/>
<path d="M653.50 442.60L655.40 444.50L653.50 446.40L651.60 444.50Z" fill="#000"/><circle cx="653.5" cy="444.5" r="1.05" fill="#000"/>
<path d="M653.50 471.60L655.40 473.50L653.50 475.40L651.60 473.50Z" fill="#000"/><circle cx="653.5" cy="473.5" r="1.05" fill="#000"/>
<path d="M652.50 478.60L654.40 480.50L652.50 482.40L650.60 480.50Z" fill="#000"/><circle cx="652.5" cy="480.5" r="1.05" fill="#000"/>
<path d="M655.50 477.60L657.40 479.50L655.50 481.40L653.60 479.50Z" fill="#000"/><circle cx="655.5" cy="479.5" r="1.05" fill="#000"/>
<path d="M653.50 483.60L655.40 485.50L653.50 487.40L651.60 485.50Z" fill="#000"/><circle cx="653.5" cy="485.5" r="1.05" fill="#000"/>
<path d="M653.50 487.60L655.40 489.50L653.50 491.40L651.60 489.50Z" fill="#000"/><circle cx="653.5" cy="489.5" r="1.05" fill="#000"/>
<line x1="414.9" y1="347.4" x2="414.9" y2="584.4" stroke="#666" stroke-width="1.8"/><line x1="408.2" y1="584.4" x2="685" y2="584.4" stroke="#222" stroke-width="1.25"/>
<line x1="412.1" y1="389.6" x2="414.9" y2="389.6" stroke="#222" stroke-width="1.2"/>
<line x1="412.1" y1="460.7" x2="414.9" y2="460.7" stroke="#222" stroke-width="1.2"/>
<text x="410.3" y="467.036" font-size="17.6" text-anchor="end"  style="">8</text>
<line x1="412.1" y1="531.7" x2="414.9" y2="531.7" stroke="#222" stroke-width="1.2"/>
<text x="410.3" y="538.0360000000001" font-size="17.6" text-anchor="end"  style="">4</text>
<path transform="translate(390.73,395.94) scale(0.00859,-0.00859)" d="M515 0L515 1237L197 1010L197 1180L530 1409L696 1409L696 0Z" fill="#000"/>
<text x="410.3" y="395.93600000000004" font-size="17.6" text-anchor="end"  style="">2</text>
<line x1="454.4" y1="584.4" x2="454.4" y2="590.9" stroke="#222" stroke-width="1.2"/>
<text x="454.4" y="610.2" font-size="18.5" text-anchor="middle"  style="">(+)</text>
<line x1="515.6" y1="584.4" x2="515.6" y2="590.9" stroke="#222" stroke-width="1.2"/>
<text x="515.6" y="610.2" font-size="18.5" text-anchor="middle"  style="">(-)</text>
<line x1="592.4" y1="584.4" x2="592.4" y2="590.9" stroke="#222" stroke-width="1.2"/>
<text x="592.4" y="610.2" font-size="18.5" text-anchor="middle"  style="">(+)</text>
<line x1="653.4" y1="584.4" x2="653.4" y2="590.9" stroke="#222" stroke-width="1.2"/>
<text x="653.4" y="610.2" font-size="18.5" text-anchor="middle"  style="">(-)</text>
<path d="M590.4 382.4V372.6H653.2V382.4" stroke="#1a1a1a" stroke-width="1.3" fill="none"/><path d="M622.40 365.90L622.40 363.30M622.40 365.90L624.87 365.10M622.40 365.90L623.93 368.00M622.40 365.90L620.87 368.00M622.40 365.90L619.93 365.10" stroke="#000" stroke-width="1.2" stroke-linecap="round" fill="none"/>
<text x="446.9" y="633.6" font-size="17.9" text-anchor="start"  style="">Inoculation</text>
<text x="539.5" y="633.6" font-size="17.9" text-anchor="start"  style="">of</text>
<text x="560.7" y="633.6" font-size="17.9" text-anchor="start" font-style="italic" textLength="103.2" lengthAdjust="spacingAndGlyphs" style="">P. penetrans</text>
<text transform="translate(383.1,588.6) rotate(-90)" font-size="23.5" textLength="153" lengthAdjust="spacingAndGlyphs">Ureides [mg/0.</text>
<path transform="translate(383.1,438.3) rotate(-90) scale(0.01147,-0.01147)" d="M515 0L515 1237L197 1010L197 1180L530 1409L696 1409L696 0Z" fill="#000"/>
<text transform="translate(383.1,426.4) rotate(-90)" font-size="23.5" textLength="83" lengthAdjust="spacingAndGlyphs">g leave]</text>
</svg>
</body></html>
